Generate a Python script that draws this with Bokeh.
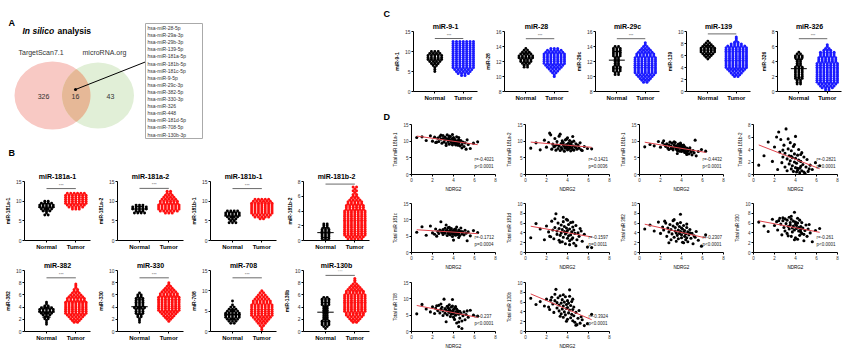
import numpy as np
from bokeh.plotting import figure
from bokeh.layouts import row, column
from bokeh.models import Range1d, FixedTicker, Title
from bokeh.embed import file_html
from bokeh.resources import INLINE
from bokeh.core.properties import value

FONT = "Liberation Sans"

# ---------------- Panel A data ----------------
VENN_SETS = ["TargetScan7.1", "microRNA.org"]
VENN_COUNTS = [326, 16, 43]
OVERLAP_MIRS = ["hsa-miR-28-5p", "hsa-miR-29a-3p", "hsa-miR-29b-3p", "hsa-miR-139-5p",
                "hsa-miR-181a-5p", "hsa-miR-181b-5p", "hsa-miR-181c-5p", "hsa-miR-9-5p",
                "hsa-miR-29c-3p", "hsa-miR-382-5p", "hsa-miR-330-3p", "hsa-miR-326",
                "hsa-miR-448", "hsa-miR-181d-5p", "hsa-miR-708-5p", "hsa-miR-130b-3p"]

# ---------------- Panel B data (value bins: start, step, counts per bin) ----------------
GROUPS = ["Normal", "Tumor"]
B_TITLES = ["miR-181a-1", "miR-181a-2", "miR-181b-1", "miR-181b-2",
            "miR-382", "miR-330", "miR-708", "miR-130b"]
B_YMIN = [0, 0, 0, 0, 0, 0, 0, 0]
B_YMAX = [15, 15, 15, 8, 10, 10, 15, 10]
B_STEP = [0.5, 0.5, 0.5, 0.25, 0.3, 0.3, 0.5, 0.3]
B_NORMAL_START = [6.5, 7.0, 4.5, 0.0, 1.2, 1.5, 2.0, 0.5]
B_NORMAL_COUNTS = [
    [2, 1, 3, 4, 5, 5, 4, 2],
    [4, 3, 5, 5, 3],
    [3, 2, 3, 4, 5, 5, 4],
    [2, 3, 3, 3, 3, 3, 3, 2, 2, 2],
    [1, 1, 1, 2, 2, 3, 4, 5, 5, 4, 2, 1, 1],
    [1, 1, 1, 2, 2, 3, 3, 3, 4, 3, 3, 3, 3, 3, 2, 2, 1],
    [2, 3, 4, 5, 5, 5, 4, 3, 2, 1, 0, 1],
    [1, 2, 3, 3, 3, 2, 2, 2, 2, 2, 2, 2, 2, 3, 3, 3, 3, 2],
]
B_TUMOR_START = [8.0, 7.0, 5.5, 0.0, 1.5, 1.7, 0.5, 1.5]
B_TUMOR_COUNTS = [
    [3, 5, 6, 7, 7, 7, 7, 7, 6],
    [3, 6, 7, 7, 7, 6, 6, 5, 4, 3, 2, 2],
    [2, 5, 6, 7, 7, 7, 7, 7, 7, 6, 5],
    [3, 5, 6, 7, 7, 7, 7, 7, 7, 7, 7, 7, 7, 7, 7, 7, 7, 6, 6, 6, 5, 5, 4, 3, 2, 2, 1, 2, 1, 2],
    [2, 3, 4, 5, 6, 7, 7, 7, 7, 7, 7, 7, 6, 6, 5, 4, 3, 2, 2, 1, 1, 1],
    [1, 2, 3, 4, 5, 6, 7, 7, 7, 7, 7, 7, 7, 7, 6, 6, 5, 4, 3, 2, 1, 1],
    [1, 1, 2, 3, 4, 5, 6, 7, 7, 7, 7, 7, 7, 6, 6, 5, 4, 3, 2, 1],
    [2, 3, 4, 5, 6, 6, 7, 7, 7, 7, 7, 7, 7, 7, 7, 7, 6, 6, 5, 4, 3, 2, 1, 1, 1],
]

# ---------------- Panel C data ----------------
C_TITLES = ["miR-9-1", "miR-28", "miR-29c", "miR-139", "miR-326"]
C_YMIN = [0, 8, 8, 0, 0]
C_YMAX = [15, 16, 16, 10, 8]
C_STEP = [0.5, 0.25, 0.25, 0.3, 0.25]
C_NORMAL_START = [5.0, 11.25, 10.25, 5.4, 1.0]
C_NORMAL_COUNTS = [
    [1, 1, 1, 2, 3, 4, 5, 5, 5, 4, 3],
    [2, 2, 3, 4, 4, 5, 5, 4, 3, 2, 1],
    [2, 2, 3, 3, 3, 2, 2, 2, 2, 2, 3, 3, 3, 3, 3, 2],
    [1, 2, 3, 4, 5, 5, 5, 4, 3, 2, 1],
    [2, 2, 2, 3, 3, 3, 3, 3, 3, 3, 2, 2, 2, 2, 3, 3, 2, 1],
]
C_TUMOR_START = [4.0, 10.0, 9.25, 2.5, 0.25]
C_TUMOR_COUNTS = [
    [2, 4, 5, 6, 7, 7, 7, 7, 7, 7, 7, 7, 7, 7, 7, 7, 7, 7],
    [1, 1, 2, 3, 4, 5, 6, 7, 7, 7, 7, 7, 7, 6, 5, 3],
    [2, 3, 4, 5, 6, 7, 7, 7, 7, 7, 7, 7, 7, 7, 6, 6, 5, 4, 3, 2, 1, 1],
    [2, 3, 4, 5, 6, 7, 7, 7, 7, 7, 7, 7, 7, 7, 7, 7, 7, 6, 4, 2, 1, 1, 1],
    [2, 4, 5, 6, 7, 7, 7, 7, 7, 7, 7, 7, 7, 7, 7, 6, 6, 6, 5, 5, 5, 3, 2, 1, 1],
]

# ---------------- Panel D data ----------------
NDRG2 = [0.5, 1.0, 1.4, 1.8, 2.0, 2.2, 2.3, 2.5, 2.6, 2.7, 2.8, 2.9, 3.0, 3.0, 3.1, 3.2,
         3.2, 3.3, 3.4, 3.4, 3.5, 3.5, 3.6, 3.6, 3.7, 3.7, 3.8, 3.8, 3.9, 3.9, 4.0, 4.0,
         4.0, 4.1, 4.1, 4.2, 4.2, 4.3, 4.3, 4.4, 4.4, 4.5, 4.5, 4.6, 4.6, 4.7, 4.8, 4.9,
         5.0, 5.1, 5.2, 5.4, 5.6, 5.9, 6.3, 2.4, 2.8, 3.3, 3.6, 3.9, 4.2, 4.5, 4.8, 5.3]
Y_181A1 = [11.1, 11.3, 10.2, 11.6, 10.0, 11.2, 9.6, 10.9, 9.9, 11.4, 10.6, 9.4, 10.8, 11.7, 9.8, 10.5,
           11.2, 9.3, 10.7, 11.9, 9.9, 10.4, 11.0, 9.1, 10.3, 11.4, 9.6, 10.1, 10.8, 8.9, 10.4, 9.5,
           11.1, 9.8, 10.6, 9.2, 10.2, 11.3, 9.4, 10.0, 8.8, 10.5, 9.3, 9.9, 8.6, 10.2, 9.0, 9.7,
           8.4, 9.5, 7.6, 9.0, 7.8, 9.4, 9.8, 9.7, 11.8, 8.7, 11.5, 12.0, 8.9, 11.1, 8.0, 10.4]
Y_181A2 = [7.9, 9.5, 7.4, 10.3, 8.2, 9.6, 12.4, 7.6, 9.1, 8.3, 10.8, 7.3, 8.9, 9.9, 7.8, 8.6,
           11.5, 7.2, 9.3, 8.1, 10.1, 7.6, 8.8, 9.6, 7.0, 8.4, 10.4, 7.9, 9.0, 8.2, 11.0, 7.4,
           8.7, 9.4, 7.7, 8.5, 10.2, 7.1, 9.1, 8.0, 9.7, 7.5, 8.6, 10.0, 7.3, 8.3, 9.2, 7.6,
           8.8, 7.9, 9.5, 7.2, 8.4, 7.8, 7.7, 11.9, 8.5, 12.1, 9.0, 10.6, 7.9, 11.4, 8.1, 7.4]
Y_181B1 = [8.3, 9.0, 8.6, 9.9, 8.2, 9.5, 10.1, 8.4, 9.2, 7.9, 8.8, 9.7, 7.8, 8.5, 9.4, 8.0,
           7.4, 8.9, 8.2, 9.6, 7.6, 8.6, 7.2, 8.3, 9.1, 7.7, 8.5, 7.0, 8.1, 9.0, 7.4, 8.4,
           6.9, 7.8, 8.7, 7.1, 7.9, 6.6, 8.3, 7.5, 6.8, 7.9, 6.4, 7.6, 7.0, 6.2, 7.4, 6.7,
           5.9, 7.2, 6.5, 5.6, 6.9, 7.5, 7.0, 8.9, 7.5, 9.8, 6.3, 9.4, 8.8, 6.0, 8.0, 10.3]
Y_181B2 = [1.5, 3.0, 5.2, 2.1, 4.4, 6.0, 0.8, 3.6, 5.6, 1.9, 2.8, 4.7, 1.2, 3.4, 7.3, 2.5,
           0.6, 4.1, 1.7, 3.0, 5.1, 2.2, 0.9, 3.8, 1.4, 2.7, 4.5, 0.5, 2.0, 3.3, 1.1, 2.6,
           6.1, 0.4, 1.8, 3.1, 0.7, 2.3, 4.0, 1.0, 0.3, 2.1, 1.3, 3.5, 0.6, 1.6, 2.8, 0.2,
           1.2, 2.4, 0.5, 1.5, 0.8, 1.9, 1.4, 6.8, 3.9, 5.7, 2.9, 4.8, 1.0, 3.2, 0.4, 0.9]
Y_181C = [6.2, 7.9, 5.3, 8.1, 6.0, 5.6, 7.2, 6.4, 5.8, 6.9, 9.4, 6.1, 5.5, 7.0, 6.3, 5.9,
          7.4, 6.6, 5.2, 6.8, 6.0, 7.6, 5.7, 6.4, 6.9, 5.4, 6.2, 7.3, 5.8, 6.5, 3.8, 6.7,
          5.6, 7.1, 6.1, 5.3, 6.6, 7.8, 5.9, 6.3, 5.5, 6.9, 6.0, 5.2, 6.5, 7.5, 5.7, 6.2,
          5.4, 6.8, 5.9, 6.3, 5.1, 6.7, 6.1, 5.0, 6.6, 8.4, 7.7, 4.9, 7.2, 4.6, 6.4, 3.6]
Y_181D = [3.0, 5.9, 4.8, 2.6, 5.4, 4.2, 3.3, 6.4, 4.6, 2.8, 5.1, 7.9, 3.7, 4.4, 6.0, 2.5,
          4.9, 3.5, 5.6, 4.0, 2.2, 4.7, 6.3, 3.1, 4.3, 5.3, 1.8, 3.8, 5.0, 4.1, 6.6, 2.9,
          4.5, 3.4, 5.7, 2.4, 4.8, 3.6, 6.1, 2.7, 4.2, 5.2, 3.0, 4.6, 1.9, 3.9, 5.5, 2.6,
          4.0, 3.3, 4.9, 2.3, 3.7, 1.1, 1.0, 3.2, 6.9, 2.1, 7.2, 6.8, 1.6, 6.2, 1.4, 4.4]
Y_382 = [4.8, 5.6, 4.4, 6.2, 3.9, 5.2, 4.6, 6.0, 3.3, 5.0, 4.2, 5.7, 2.6, 4.7, 3.8, 5.4,
         6.5, 3.1, 4.4, 5.1, 2.3, 4.0, 5.8, 3.5, 4.6, 2.8, 5.3, 3.9, 7.8, 4.3, 3.0, 5.0,
         3.6, 4.8, 2.1, 4.1, 5.5, 3.3, 4.5, 2.6, 3.8, 5.1, 3.0, 4.2, 2.2, 3.6, 4.7, 2.9,
         3.9, 1.8, 3.4, 4.3, 2.5, 1.3, 3.6, 6.4, 2.0, 6.7, 5.9, 6.1, 2.0, 5.8, 4.0, 3.1]
Y_330 = [6.2, 5.4, 4.3, 6.8, 5.5, 6.3, 4.6, 7.0, 5.8, 3.6, 6.5, 5.1, 6.9, 4.4, 5.9, 6.6,
         3.9, 5.3, 7.2, 4.8, 6.1, 5.6, 3.3, 6.8, 5.0, 4.2, 6.4, 5.4, 8.2, 4.6, 5.8, 3.0,
         6.2, 4.9, 5.5, 2.7, 6.0, 4.4, 5.1, 6.6, 3.5, 5.3, 4.7, 6.1, 3.9, 5.0, 2.4, 4.5,
         5.6, 3.3, 4.8, 4.0, 2.2, 4.5, 4.9, 6.5, 7.1, 3.4, 7.4, 2.6, 7.0, 4.2, 3.7, 5.7]
Y_708 = [5.4, 8.3, 6.9, 6.0, 7.6, 5.5, 7.1, 6.4, 8.0, 5.7, 6.8, 7.4, 4.9, 6.3, 9.9, 7.0,
         5.6, 6.6, 7.7, 5.1, 6.2, 7.3, 5.8, 6.9, 4.6, 6.4, 7.5, 5.3, 9.8, 6.1, 4.4, 6.7,
         5.5, 7.1, 3.7, 6.0, 5.0, 6.9, 2.6, 5.7, 6.4, 1.5, 5.3, 6.2, 4.1, 5.6, 0.9, 4.8,
         6.0, 3.6, 5.2, 4.4, 6.5, 5.0, 4.7, 7.9, 8.4, 3.0, 8.2, 7.8, 7.6, 2.9, 3.2, 6.3]
Y_130B = [6.8, 5.5, 6.1, 5.2, 6.6, 5.0, 4.5, 7.0, 5.6, 3.9, 6.3, 8.6, 4.8, 5.9, 6.9, 4.2,
          5.4, 7.3, 3.6, 5.8, 6.5, 4.6, 2.9, 5.2, 6.0, 4.0, 7.1, 3.4, 5.5, 4.7, 6.3, 2.5,
          4.9, 5.8, 3.8, 8.5, 4.4, 2.8, 5.3, 3.5, 6.1, 2.2, 4.5, 3.2, 5.0, 1.9, 3.9, 1.4,
          2.7, 4.3, 1.7, 2.4, 1.2, 1.6, 3.5, 6.4, 7.6, 3.1, 7.5, 2.1, 7.2, 6.6, 1.3, 3.0]
D_Y = [Y_181A1, Y_181A2, Y_181B1, Y_181B2, Y_181C, Y_181D, Y_382, Y_330, Y_708, Y_130B]
D_YLABELS = ["Total miR 181a-1", "Total miR 181a-2", "Total miR 181b-1", "Total miR 181b-2",
             "Total miR 181c", "Total miR 181d", "Total miR 382", "Total miR 330",
             "Total miR 708", "Total miR 130b"]
D_YMAX = [15, 15, 15, 8, 15, 10, 10, 10, 15, 10]
D_R = ["r=-0.4021", "r=-0.1421", "r=-0.4432", "r=-0.2821", "r=-0.1712",
       "r=-0.1597", "r=-0.2307", "r=-0.261", "r=-0.237", "r=-0.3924"]
D_P = ["p<0.0001", "p=0.0036", "p<0.0001", "p<0.0001", "p=0.0004",
       "p=0.0011", "p<0.0001", "p<0.0001", "p<0.0001", "p<0.0001"]
NDRG2_TICKS = [0, 2, 4, 6, 8]

TICKS_BY_RANGE = {(0, 15): [0, 5, 10, 15], (0, 10): [0, 2, 4, 6, 8, 10],
                  (0, 8): [0, 2, 4, 6, 8], (8, 16): [8, 10, 12, 14, 16]}


def style(p, fs="5px"):
    p.outline_line_color = None
    p.grid.grid_line_color = None
    p.background_fill_color = "white"
    p.border_fill_color = "white"
    for ax in p.axis:
        ax.axis_line_color = "black"
        ax.axis_line_width = 1
        ax.major_tick_line_color = "black"
        ax.major_tick_out = 2
        ax.major_tick_in = 0
        ax.minor_tick_line_color = None
        ax.major_label_text_font = FONT
        ax.major_label_text_font_size = fs
        ax.major_label_text_color = "#333333"
        ax.major_label_standoff = 1
        ax.axis_label_text_font = FONT
        ax.axis_label_text_color = "black"


def swarm(start, step, counts, center, dx):
    xs, ys = [], []
    for i, n in enumerate(counts):
        v = start + i * step
        for k in range(n):
            xs.append(center + (k - (n - 1) / 2) * dx)
            ys.append(v)
    return xs, ys


def make_title(text, align="center", offset=0, standoff=3, size="7px"):
    return Title(text=text, align=align, offset=offset, standoff=standoff,
                 text_font=FONT, text_font_size=size, text_font_style="bold",
                 text_color="black")


def dot_fig(title, ymin, ymax, step, ns, nc, ts, tc, tcolor, width, left, top, bottom, height,
            right=3, panel_letter=None):
    x0, x1 = 0.25, 2.5
    fw = width - left - right
    if panel_letter is None:
        ttl = make_title(title)
    else:
        ttl = make_title(panel_letter, align="left", offset=-(left - 3), standoff=1, size="9px")
    p = figure(width=width, height=height, x_range=Range1d(x0, x1), y_range=Range1d(ymin, ymax),
               output_backend="svg", toolbar_location=None, title=ttl,
               min_border_left=left, min_border_right=right,
               min_border_top=top, min_border_bottom=bottom)
    if panel_letter is not None:
        p.add_layout(make_title(title), "above")
    style(p)
    p.yaxis.ticker = FixedTicker(ticks=TICKS_BY_RANGE[(ymin, ymax)])
    p.yaxis.axis_label = title
    p.yaxis.axis_label_text_font_size = "5px"
    p.yaxis.axis_label_text_font_style = "bold"
    p.yaxis.axis_label_standoff = 2
    p.xaxis.ticker = FixedTicker(ticks=[1, 2])
    p.xaxis.major_label_overrides = {1: GROUPS[0], 2: GROUPS[1]}
    p.xaxis.major_label_text_font_size = "6px"
    p.xaxis.major_label_text_font_style = "bold"
    p.xaxis.major_label_text_color = "black"
    dx = 3.4 * (x1 - x0) / fw
    xs, ys = swarm(ns, step, nc, 1, dx)
    p.scatter(xs, ys, size=2.9, fill_color="black", line_color=None)
    xt, yt = swarm(ts, step, tc, 2, dx)
    p.scatter(xt, yt, size=3.0, fill_color=tcolor, line_color=None)
    vals = np.repeat([ns + i * step for i in range(len(nc))], nc)
    m, s = float(vals.mean()), float(vals.std())
    p.segment(x0=[0.72, 0.86, 0.86, 1.0], y0=[m, m - s, m + s, m - s],
              x1=[1.28, 1.14, 1.14, 1.0], y1=[m, m - s, m + s, m + s],
              line_color="black", line_width=1)
    span = ymax - ymin
    dmax = max(max(ys), max(yt))
    by = max(ymax - 0.12 * span, min(dmax + 0.05 * span, ymax - 0.03 * span))
    p.segment(x0=[1], y0=[by], x1=[2], y1=[by], line_color="#444444", line_width=0.8)
    p.text(x=[1.5], y=[by + 0.015 * span], text=["***"], text_font=value(FONT),
           text_font_size="4px", text_align="center", text_baseline="bottom", text_color="#555555")
    return p


def d_fig(i, width, left, top, bottom, height, right=6):
    ymax = D_YMAX[i]
    p = figure(width=width, height=height, x_range=Range1d(0, 8), y_range=Range1d(0, ymax),
               output_backend="svg", toolbar_location=None,
               min_border_left=left, min_border_right=right,
               min_border_top=top, min_border_bottom=bottom)
    style(p, "4.5px")
    p.xaxis.ticker = FixedTicker(ticks=NDRG2_TICKS)
    p.yaxis.ticker = FixedTicker(ticks=TICKS_BY_RANGE[(0, ymax)])
    p.xaxis.axis_label = "NDRG2"
    p.yaxis.axis_label = D_YLABELS[i]
    for ax in p.axis:
        ax.axis_label_text_font_size = "4.5px"
        ax.axis_label_text_font_style = "normal"
        ax.axis_label_standoff = 2
    y = D_Y[i]
    n = min(len(NDRG2), len(y))
    xv = np.array(NDRG2[:n])
    yv = np.array(y[:n])
    p.scatter(xv, yv, size=3.1, fill_color="black", line_color=None)
    b, a = np.polyfit(xv, yv, 1)
    xl = [float(xv.min()), float(xv.max())]
    p.line(xl, [a + b * v for v in xl], line_color="#e0444c", line_width=1)
    p.text(x=[6.0, 6.0], y=[0.30 * ymax, 0.17 * ymax], text=[D_R[i], D_P[i]],
           text_font=value(FONT), text_font_size="4.5px", text_align="left",
           text_baseline="middle", text_color="#222222")
    return p


# ---------------- Panel A figure ----------------
pa = figure(width=380, height=158, x_range=Range1d(0, 380), y_range=Range1d(158, 0),
            output_backend="svg", toolbar_location=None, min_border=0,
            x_axis_location=None, y_axis_location=None)
pa.outline_line_color = None
pa.grid.visible = False
LC, RC = (52.0, 95.0, 38.0, 34.0), (97.5, 95.0, 36.0, 33.0)
pa.ellipse(x=[LC[0]], y=[LC[1]], width=2 * LC[2], height=2 * LC[3], fill_color="#f8c9c4", line_color=None)
pa.ellipse(x=[RC[0]], y=[RC[1]], width=2 * RC[2], height=2 * RC[3], fill_color="#e1efd7", line_color=None)
t = np.linspace(0, 2 * np.pi, 360, endpoint=False)
lx, ly = LC[0] + LC[2] * np.cos(t), LC[1] + LC[3] * np.sin(t)
rx, ry = RC[0] + RC[2] * np.cos(t), RC[1] + RC[3] * np.sin(t)
in_r = ((lx - RC[0]) / RC[2]) ** 2 + ((ly - RC[1]) / RC[3]) ** 2 <= 1
in_l = ((rx - LC[0]) / LC[2]) ** 2 + ((ry - LC[1]) / LC[3]) ** 2 <= 1
px = np.concatenate([lx[in_r], rx[in_l]])
py = np.concatenate([ly[in_r], ry[in_l]])
order = np.argsort(np.arctan2(py - py.mean(), px - px.mean()))
pa.patch(list(px[order]), list(py[order]), fill_color="#e6b897", line_color=None)
pa.text(x=[8], y=[22], text=["A"], text_font=value(FONT), text_font_size="9px",
        text_font_style="bold", text_baseline="middle")
pa.text(x=[8], y=[152], text=["B"], text_font=value(FONT), text_font_size="9px",
        text_font_style="bold", text_baseline="middle")
pa.text(x=[22], y=[30], text=["In silico"], text_font=value(FONT), text_font_size="8.5px",
        text_font_style="bold italic", text_baseline="middle")
pa.text(x=[57], y=[30], text=["analysis"], text_font=value(FONT), text_font_size="8.5px",
        text_font_style="bold", text_baseline="middle")
pa.text(x=[18, 82], y=[52, 52], text=VENN_SETS, text_font=value(FONT), text_font_size="7px",
        text_baseline="middle", text_color="#333333")
pa.text(x=[43, 75, 110], y=[96, 96, 96], text=[str(v) for v in VENN_COUNTS],
        text_font=value(FONT), text_font_size="7px", text_align="center",
        text_baseline="middle", text_color="#333333")
pa.segment(x0=[75], y0=[89], x1=[146], y1=[61], line_color="black", line_width=1)
pa.scatter(x=[75], y=[89], size=3, fill_color="black", line_color=None)
pa.quad(left=[145], right=[202], top=[23], bottom=[138], fill_color="white",
        line_color="#aaaaaa", line_width=1)
pa.text(x=[147] * len(OVERLAP_MIRS), y=[27.5 + 7.1 * i for i in range(len(OVERLAP_MIRS))],
        text=OVERLAP_MIRS, text_font=value(FONT), text_font_size="5px",
        text_baseline="middle", text_color="#333333")

# ---------------- Panel B figures ----------------
b_figs = []
for k in range(8):
    if k < 4:
        h, top, bot = 94, 23, 10
    else:
        h, top, bot = 99, 18, 20
    b_figs.append(dot_fig(B_TITLES[k], B_YMIN[k], B_YMAX[k], B_STEP[k],
                          B_NORMAL_START[k], B_NORMAL_COUNTS[k],
                          B_TUMOR_START[k], B_TUMOR_COUNTS[k], "#ff1010",
                          93, 24, top, bot, h))

# ---------------- Panel C figures ----------------
c_figs = []
for k in range(5):
    w, lft = (100, 33) if k == 0 else (91, 24)
    c_figs.append(dot_fig(C_TITLES[k], C_YMIN[k], C_YMAX[k], C_STEP[k],
                          C_NORMAL_START[k], C_NORMAL_COUNTS[k],
                          C_TUMOR_START[k], C_TUMOR_COUNTS[k], "#1a1aff",
                          w, lft, 31, 15, 106, panel_letter=("C" if k == 0 else None)))

# ---------------- Panel D figures ----------------
d_rows_spec = [(88, 18, 17), (78, 9, 16), (79, 10, 16)]
d_figs = []
for i in range(10):
    r = 0 if i < 4 else (1 if i < 8 else 2)
    h, top, bot = d_rows_spec[r]
    first = (i % 4 == 0)
    w, lft = (121, 31) if first else (114, 24)
    d_figs.append(d_fig(i, w, lft, top, bot, h))
d_figs[0].add_layout(make_title("D", align="left", offset=-28, standoff=5, size="9px"), "above")

left = column(pa, row(*b_figs[:4]), row(*b_figs[4:]))
right = column(row(*c_figs), row(*d_figs[:4]), row(*d_figs[4:8]), row(*d_figs[8:]))
layout = row(left, right)

open("out.html", "w").write(file_html(layout, INLINE))
